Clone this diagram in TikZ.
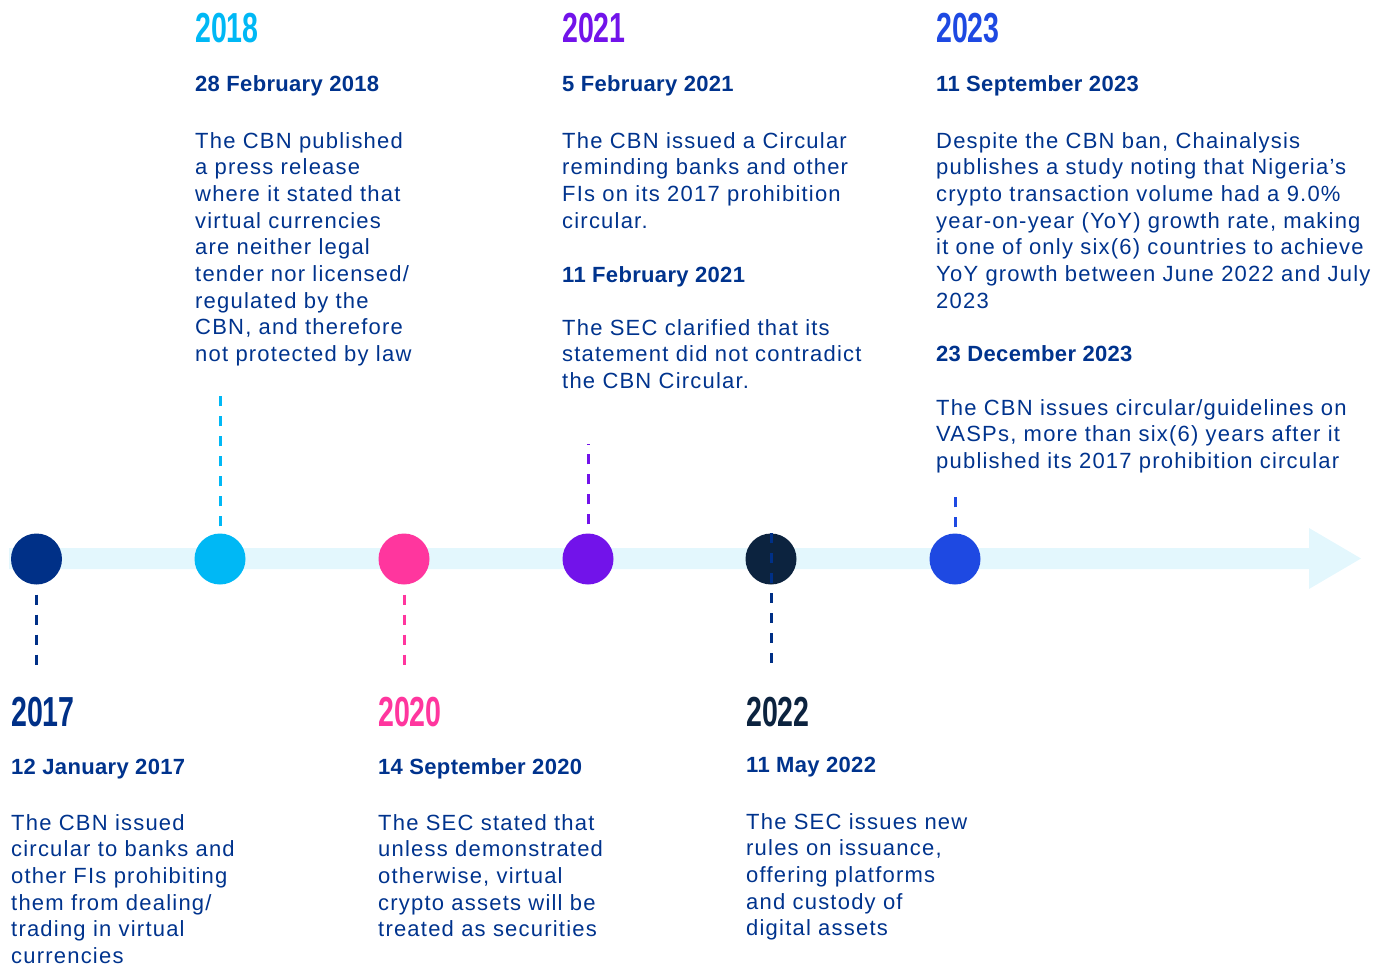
\documentclass[tikz,border=0pt]{standalone}
\usepackage{fontspec}
\setmainfont{Liberation Sans}
\newfontfamily\bodyfont{Liberation Sans}[LetterSpace=5.5]
\newfontfamily\datefont{Liberation Sans}[LetterSpace=1.5]
\newfontfamily\yearfont{Liberation Sans}[FakeStretch=0.68]
\definecolor{c17}{HTML}{003087}
\definecolor{c18}{HTML}{00B8F5}
\definecolor{c20}{HTML}{FF369E}
\definecolor{c21}{HTML}{7213EA}
\definecolor{c22}{HTML}{0C233F}
\definecolor{c23}{HTML}{1E49E2}
\definecolor{txt}{HTML}{00338D}
\definecolor{barc}{HTML}{E3F7FD}
\tikzset{
  dot/.style={circle, fill=#1, minimum size=51pt, inner sep=0pt},
  tick/.style={draw=#1, line width=3pt, dash pattern=on 10pt off 10pt},
  yearlbl/.style={anchor=base west, inner sep=0pt, text=#1, font=\yearfont\bfseries\fontsize{42}{42}\selectfont},
  datelbl/.style={anchor=base west, inner sep=0pt, text=txt, font=\datefont\bfseries\fontsize{22}{26.7}\selectfont},
  bodylbl/.style={anchor=base west, inner sep=0pt, text=txt, font=\bodyfont\fontsize{22}{26.7}\selectfont},
}
\newcommand{\blk}[1]{\parbox[t]{460pt}{\raggedright\setlength\baselineskip{26.7pt}#1}}
\begin{document}
\begin{tikzpicture}[x=1pt,y=-1pt]
\useasboundingbox (0,0) rectangle (1385,966);
% bar with arrow
\fill[barc] (9,548) -- (1309,548) -- (1309,528) -- (1361,558.5) -- (1309,589) -- (1309,569) -- (9,569) -- cycle;
% dots
\node[dot=c17] (n17) at (36.5,559) {};
\node[dot=c18] (n18) at (220,559) {};
\node[dot=c20] (n20) at (404,559) {};
\node[dot=c21] (n21) at (588,559) {};
\node[dot=c22] (n22) at (771,559) {};
\node[dot=c23] (n23) at (955,559) {};
% tick ends
\coordinate (e17) at (36.5,667);
\coordinate (e18) at (220,388);
\coordinate (e20) at (404,667);
\coordinate (e21) at (588,444);
\coordinate (e22) at (771,667);
\coordinate (e23) at (955,496);
\draw[tick=c17] ([yshift=-10pt]n17.south) -- (e17);
\draw[tick=c18] ([yshift=7pt]n18.north) -- (e18);
\draw[tick=c20] ([yshift=-10pt]n20.south) -- (e20);
\draw[tick=c21] ([yshift=9pt]n21.north) -- (e21);
\draw[tick=c17] (n22.north) -- (e22);
\draw[tick=c23] ([yshift=6pt]n23.north) -- (e23);
% 2017
\node[yearlbl=c17] (y17) at (11,726) {2017};
\node[datelbl] (d17) at (11,774) {12 January 2017};
\node[bodylbl] (b17) at (11,830) {\blk{The CBN issued\\circular to banks and\\other FIs prohibiting\\them from dealing/\\trading in virtual\\currencies}};
% 2018
\node[yearlbl=c18] (y18) at (195,43) {2018};
\node[datelbl] (d18) at (195,92) {28 February 2018};
\node[bodylbl] (b18) at (195,148) {\blk{The CBN published\\a press release\\where it stated that\\virtual currencies\\are neither legal\\tender nor licensed/\\regulated by the\\CBN, and therefore\\not protected by law}};
% 2020
\node[yearlbl=c20] (y20) at (378,726) {2020};
\node[datelbl] (d20) at (378,774) {14 September 2020};
\node[bodylbl] (b20) at (378,830) {\blk{The SEC stated that\\unless demonstrated\\otherwise, virtual\\crypto assets will be\\treated as securities}};
% 2021
\node[yearlbl=c21] (y21) at (562,43) {2021};
\node[datelbl] (d21) at (562,92) {5 February 2021};
\node[bodylbl] (b21) at (562,148) {\blk{The CBN issued a Circular\\reminding banks and other\\FIs on its 2017 prohibition\\circular.}};
\node[datelbl] (d21b) at (562,282) {11 February 2021};
\node[bodylbl] (b21b) at (562,335) {\blk{The SEC clarified that its\\statement did not contradict\\the CBN Circular.}};
% 2022
\node[yearlbl=c22] (y22) at (746,726) {2022};
\node[datelbl] (d22) at (746,772) {11 May 2022};
\node[bodylbl] (b22) at (746,829) {\blk{The SEC issues new\\rules on issuance,\\offering platforms\\and custody of\\digital assets}};
% 2023
\node[yearlbl=c23] (y23) at (936,43) {2023};
\node[datelbl] (d23) at (936,92) {11 September 2023};
\node[bodylbl] (b23) at (936,148) {\blk{Despite the CBN ban, Chainalysis\\publishes a study noting that Nigeria’s\\crypto transaction volume had a 9.0\%\\year-on-year (YoY) growth rate, making\\it one of only six(6) countries to achieve\\YoY growth between June 2022 and July\\2023}};
\node[datelbl] (d23b) at (936,361) {23 December 2023};
\node[bodylbl] (b23b) at (936,415) {\blk{The CBN issues circular/guidelines on\\VASPs, more than six(6) years after it\\published its 2017 prohibition circular}};
\end{tikzpicture}
\end{document}
